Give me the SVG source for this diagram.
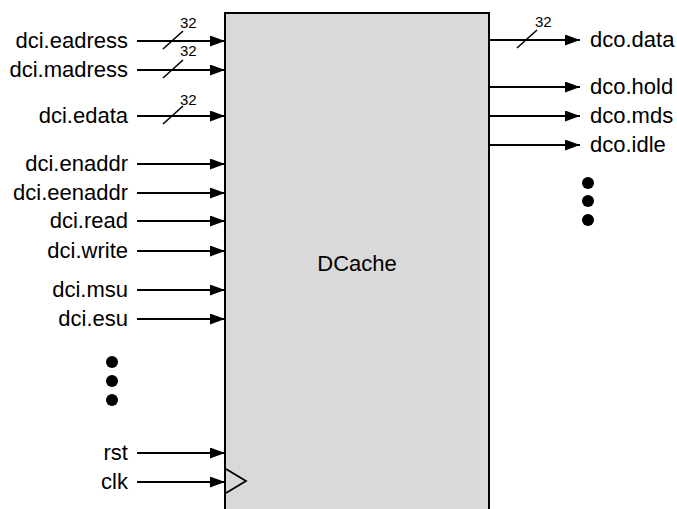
<svg xmlns="http://www.w3.org/2000/svg" width="677" height="509" viewBox="0 0 677 509">
<style>
text{font-family:"Liberation Sans",Arial,sans-serif;fill:#000}
.lbl{font-size:22px}
.in{text-anchor:end}
.bw{font-size:15px}
.w{stroke:#000;stroke-width:2;fill:none}
.sl{stroke:#000;stroke-width:1.6;fill:none}
</style>
<defs>
<marker id="ah" markerWidth="15" markerHeight="11" refX="15" refY="5.5" orient="auto" markerUnits="userSpaceOnUse">
<path d="M0,0 L15,5.5 L0,11 Z" fill="#000"/>
</marker>
</defs>
<g id="dcache">
<rect x="225" y="13" width="264" height="510" fill="#d9d9d9" stroke="#000" stroke-width="2"/>
<polyline points="226,469 246,481 226,493" fill="none" stroke="#000" stroke-width="1.8"/>
<text x="357" y="271" text-anchor="middle" style="font-size:22px">DCache</text>
</g>
<g id="connectors">
<line class="w" x1="137" y1="41" x2="225" y2="41" marker-end="url(#ah)"/>
<line class="w" x1="137" y1="70" x2="225" y2="70" marker-end="url(#ah)"/>
<line class="w" x1="137" y1="116" x2="225" y2="116" marker-end="url(#ah)"/>
<line class="w" x1="137" y1="164" x2="225" y2="164" marker-end="url(#ah)"/>
<line class="w" x1="137" y1="193" x2="225" y2="193" marker-end="url(#ah)"/>
<line class="w" x1="137" y1="221" x2="225" y2="221" marker-end="url(#ah)"/>
<line class="w" x1="137" y1="251" x2="225" y2="251" marker-end="url(#ah)"/>
<line class="w" x1="137" y1="290" x2="225" y2="290" marker-end="url(#ah)"/>
<line class="w" x1="137" y1="319" x2="225" y2="319" marker-end="url(#ah)"/>
<line class="w" x1="137" y1="453" x2="225" y2="453" marker-end="url(#ah)"/>
<line class="w" x1="137" y1="482" x2="225" y2="482" marker-end="url(#ah)"/>
<line class="w" x1="490" y1="40" x2="580" y2="40" marker-end="url(#ah)"/>
<line class="w" x1="490" y1="87" x2="580" y2="87" marker-end="url(#ah)"/>
<line class="w" x1="490" y1="116" x2="580" y2="116" marker-end="url(#ah)"/>
<line class="w" x1="490" y1="145" x2="580" y2="145" marker-end="url(#ah)"/>
<line class="sl" x1="163" y1="49" x2="183" y2="31"/>
<line class="sl" x1="163" y1="78" x2="183" y2="60"/>
<line class="sl" x1="163" y1="124" x2="183" y2="106"/>
<line class="sl" x1="517" y1="48" x2="537" y2="30"/>
</g>
<g id="bus-widths">
<text class="bw" x="180" y="28">32</text>
<text class="bw" x="180" y="56">32</text>
<text class="bw" x="180" y="105">32</text>
<text class="bw" x="535" y="27">32</text>
</g>
<g id="inputs">
<text class="lbl in" x="128" y="48">dci.eadress</text>
<text class="lbl in" x="128" y="77">dci.madress</text>
<text class="lbl in" x="128" y="123">dci.edata</text>
<text class="lbl in" x="128" y="171">dci.enaddr</text>
<text class="lbl in" x="128" y="200">dci.eenaddr</text>
<text class="lbl in" x="128" y="228">dci.read</text>
<text class="lbl in" x="128" y="258">dci.write</text>
<text class="lbl in" x="128" y="297">dci.msu</text>
<text class="lbl in" x="128" y="326">dci.esu</text>
<text class="lbl in" x="128" y="460">rst</text>
<text class="lbl in" x="128" y="489">clk</text>
<circle cx="112" cy="362" r="6"/>
<circle cx="112" cy="381" r="6"/>
<circle cx="112" cy="400" r="6"/>
</g>
<g id="outputs">
<text class="lbl" x="590" y="47">dco.data</text>
<text class="lbl" x="590" y="94">dco.hold</text>
<text class="lbl" x="590" y="123">dco.mds</text>
<text class="lbl" x="590" y="152">dco.idle</text>
<circle cx="588" cy="183" r="6"/>
<circle cx="588" cy="201" r="6"/>
<circle cx="588" cy="220" r="6"/>
</g>
</svg>
